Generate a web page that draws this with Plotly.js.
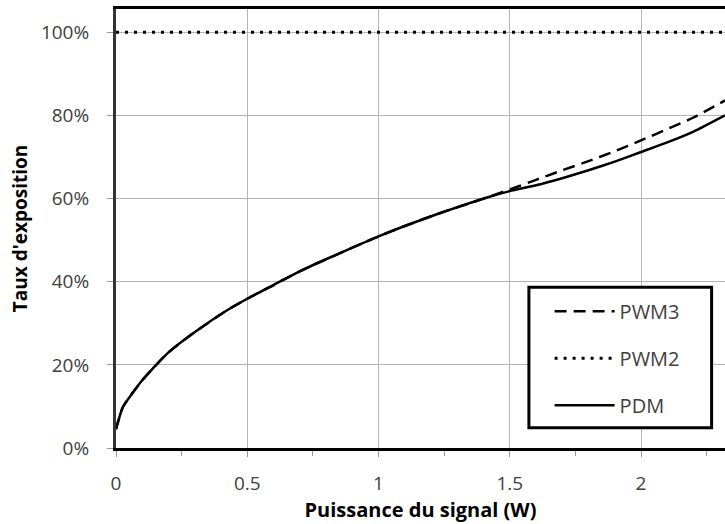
<!DOCTYPE html>
<html>
<head>
<meta charset="utf-8">
<script src="https://cdn.plot.ly/plotly-3.0.1.min.js"></script>
<style>html,body{margin:0;padding:0;background:#fff;}#chart{width:725px;height:524px;}</style>
</head>
<body>
<div id="chart"></div>
<script>
// Data
const xPower = [0, 0.005, 0.025, 0.05, 0.1, 0.14, 0.2, 0.29, 0.42, 0.5, 0.6, 0.7, 0.8, 0.89, 1.0, 1.1, 1.23, 1.3, 1.41, 1.5, 1.6, 1.7, 1.8, 1.9, 2.0, 2.1, 2.2, 2.32];
const pdm  = [4.5, 5.7, 9.7, 12.1, 16.3, 19.1, 23.0, 27.4, 33.0, 35.9, 39.2, 42.5, 45.4, 47.9, 50.9, 53.4, 56.4, 57.9, 60.2, 61.8, 63.2, 64.9, 66.8, 68.9, 71.2, 73.5, 76.1, 80.0];
const pwm3 = [4.5, 5.7, 9.7, 12.1, 16.3, 19.1, 23.0, 27.4, 33.0, 35.9, 39.2, 42.5, 45.4, 47.9, 50.9, 53.4, 56.4, 57.9, 60.2, 62.2, 64.5, 66.8, 69.0, 71.4, 74.0, 76.7, 79.5, 83.6];
const pwm2X = [0, 2.5];
const pwm2 = [100, 100];
const seriesNames = ["PWM3", "PWM2", "PDM"];
const xTicks = [0, 0.5, 1, 1.5, 2];
const xTickText = ["0", "0.5", "1", "1.5", "2"];
const yTicks = [0, 20, 40, 60, 80, 100];
const yTickText = ["0%", "20%", "40%", "60%", "80%", "100%"];

const FONT = "'Open Sans', sans-serif";

const traces = [
  {x: xPower, y: pwm3, name: seriesNames[0], mode: "lines", legendgroup: "a",
   line: {color: "#000", width: 2.5, dash: "12px,7px", shape: "spline", smoothing: 0.6}},
  {x: pwm2X, y: pwm2, name: seriesNames[1], mode: "lines", legendgroup: "b",
   line: {color: "#000", width: 3, dash: "3px,6px"}},
  {x: xPower, y: pdm, name: seriesNames[2], mode: "lines", legendgroup: "c",
   line: {color: "#000", width: 2.5, shape: "spline", smoothing: 0.6}}
];

const layout = {
  width: 725, height: 524,
  margin: {l: 116, r: 0, t: 9, b: 76},
  paper_bgcolor: "#fff", plot_bgcolor: "#fff",
  font: {family: FONT, size: 19, color: "#404040"},
  showlegend: true,
  legend: {
    x: 0.712, y: 0.356, xanchor: "left", yanchor: "top",
    bgcolor: "rgba(0,0,0,0)", borderwidth: 0,
    font: {family: FONT, size: 20, color: "#404040"},
    tracegroupgap: 18, itemwidth: 60, traceorder: "grouped"
  },
  shapes: [
    {type: "rect", xref: "paper", yref: "paper", x0: 0.678, x1: 0.978, y0: 0.046, y1: 0.366,
     line: {color: "#000", width: 3}, fillcolor: "#fff", layer: "above"}
  ],
  xaxis: {
    range: [0, 2.32], tickvals: xTicks, ticktext: xTickText,
    showgrid: true, gridcolor: "#b3b3b3", gridwidth: 1,
    showline: true, linecolor: "#000", linewidth: 3, mirror: true,
    ticks: "outside", ticklen: 6, tickcolor: "#999", tickwidth: 1,
    minor: {dtick: 0.25, tick0: 0, ticks: "outside", ticklen: 5, tickcolor: "#999", showgrid: false},
    ticklabelstandoff: 10,
    zeroline: false,
    tickfont: {family: FONT, size: 19, color: "#404040"},
    title: {text: "Puissance du signal (W)", font: {family: FONT, size: 20, color: "#000", weight: "bold"}, standoff: 8}
  },
  yaxis: {
    range: [0, 105.6], tickvals: yTicks, ticktext: yTickText,
    showgrid: true, gridcolor: "#b3b3b3", gridwidth: 1,
    showline: true, linecolor: "#333", linewidth: 3, mirror: false,
    ticks: "outside", ticklen: 6, tickcolor: "#999", tickwidth: 1,
    ticklabelstandoff: 14,
    zeroline: false,
    tickfont: {family: FONT, size: 19, color: "#404040"},
    title: {text: "Taux d'exposition", font: {family: FONT, size: 19, color: "#000", weight: "bold"}, standoff: 9}
  }
};

Plotly.newPlot("chart", traces, layout, {displayModeBar: false, staticPlot: true});
</script>
</body>
</html>
